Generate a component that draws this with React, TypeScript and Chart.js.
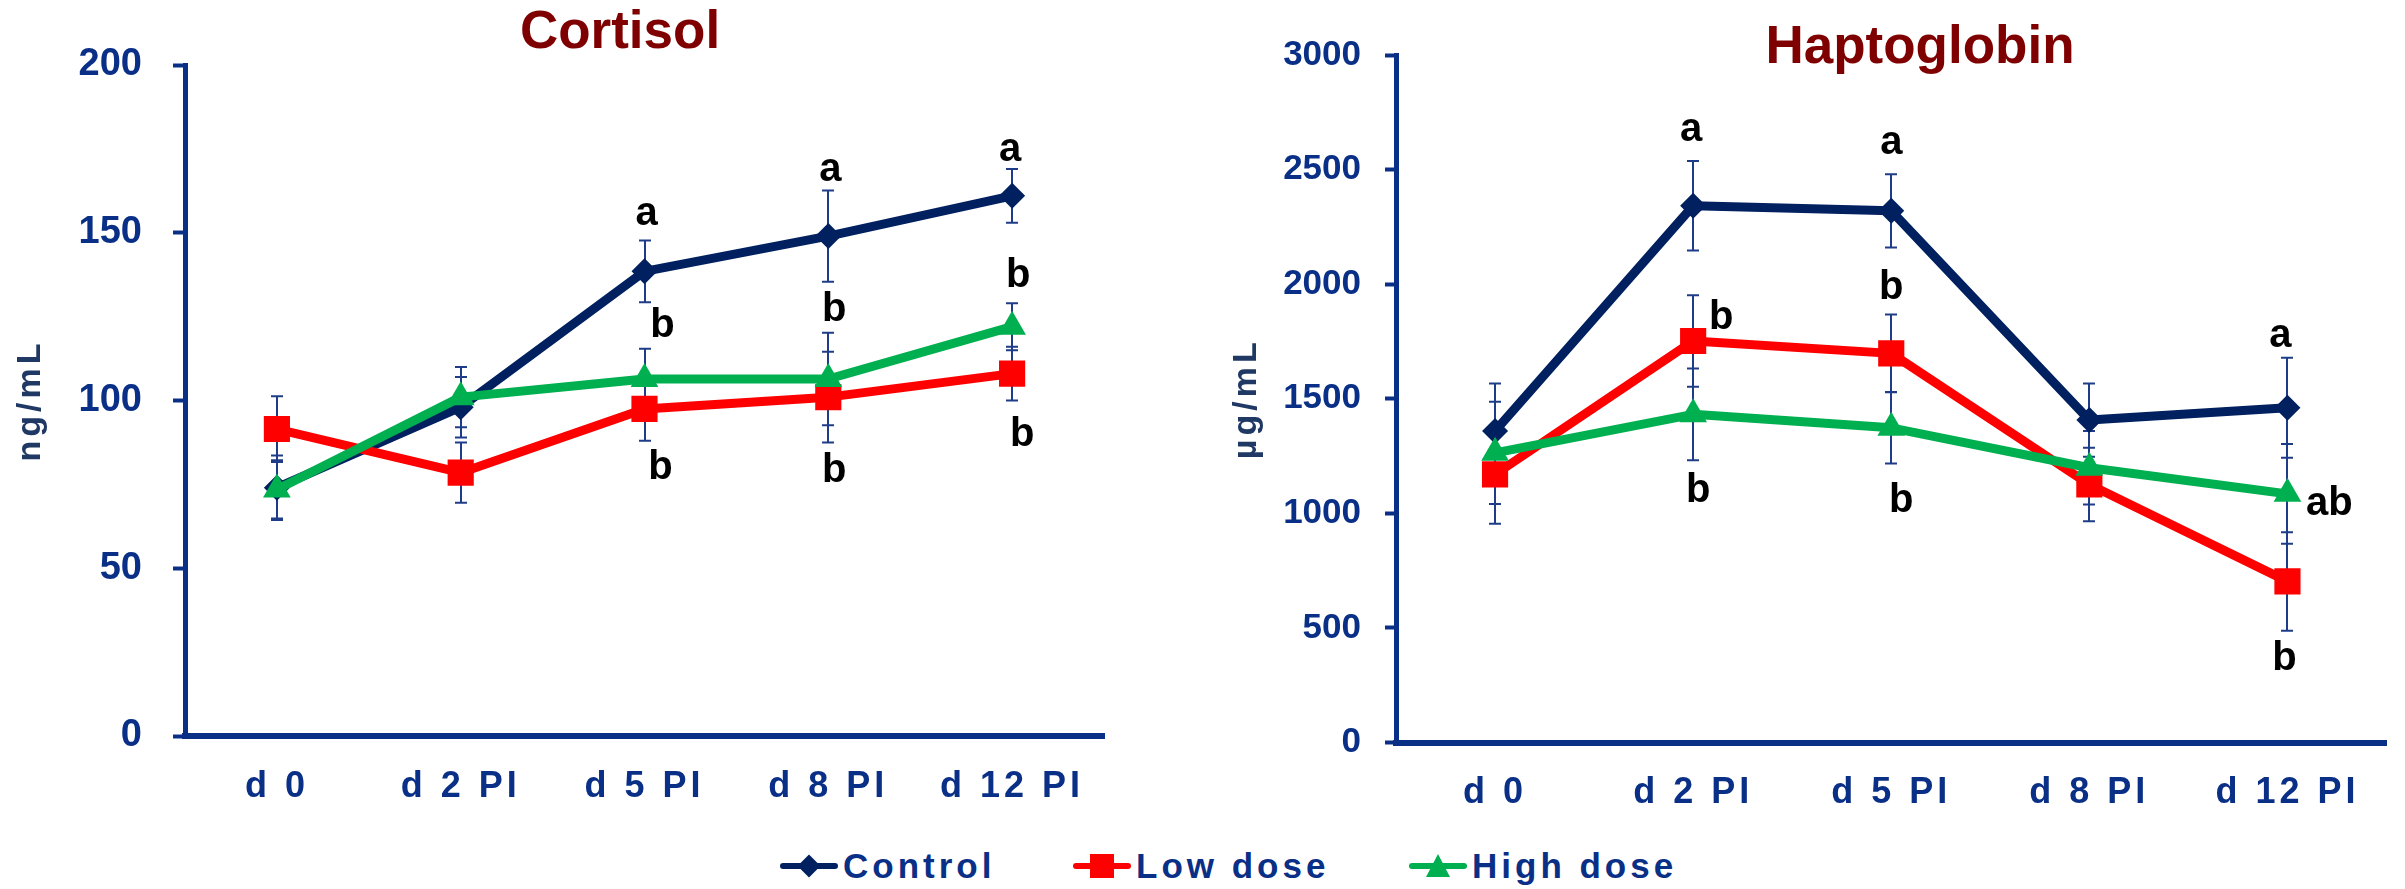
import React, { useEffect, useRef } from 'react';
import { Chart, registerables } from 'chart.js';

Chart.register(...registerables);

// ---- data ----
const days = ['d 0', 'd 2 PI', 'd 5 PI', 'd 8 PI', 'd 12 PI'];
const seriesNames = ['Control', 'Low dose', 'High dose'];

// Cortisol, ng/mL (mean and SE)
const cortisolControl = [74, 98, 138.5, 149, 161];
const cortisolControlSe = [9.6, 9, 9.2, 13.6, 8];
const cortisolLow = [91.5, 78.5, 97.5, 101, 108];
const cortisolLowSe = [9.8, 9, 9.5, 13.5, 8];
const cortisolHigh = [73.5, 101, 106.4, 106.4, 122];
const cortisolHighSe = [8.7, 9, 9, 13.8, 7];
const cortisolControlLetters = ['', '', 'a', 'a', 'a'];
const cortisolLowLetters = ['', '', 'b', 'b', 'b'];
const cortisolHighLetters = ['', '', 'b', 'b', 'b'];

// Haptoglobin, µg/mL (mean and SE)
const haptoControl = [1359, 2342, 2320, 1407, 1461];
const haptoControlSe = [208, 195, 160, 160, 218];
const haptoLow = [1170, 1752, 1698, 1126, 703];
const haptoLowSe = [215, 200, 170, 160, 215];
const haptoHigh = [1264, 1432, 1373, 1199, 1085];
const haptoHighSe = [223, 200, 156, 160, 218];
const haptoControlLetters = ['', 'a', 'a', '', 'a'];
const haptoLowLetters = ['', 'b', 'b', '', 'b'];
const haptoHighLetters = ['', 'b', 'b', '', 'ab'];

// ---- styling ----
const FONT = "'Liberation Sans', Arial, Helvetica, sans-serif";
const NAVY = '#0a2f86';
const AXIS_TITLE = '#1f3864';
const PANEL_TITLE = '#7f0000';
const ERR_COLOR = '#1f3c88';
const SERIES_COLORS = ['#002060', '#ff0000', '#00b050'];
const POINT_STYLES = ['rectRot', 'rect', 'triangle'];
const POINT_RADII = [13, 18.5, 16];

type Place = { anchor: 'top' | 'bottom' | 'point'; dx: number; dy: number } | null;

// where each significance letter sits relative to its error bar (pixels)
const cortisolPlacement: Place[][] = [
  [null, null, { anchor: 'top', dx: 2, dy: -15 }, { anchor: 'top', dx: 2, dy: -9 }, { anchor: 'top', dx: -2, dy: -8 }],
  [null, null, { anchor: 'bottom', dx: 16, dy: 38 }, { anchor: 'bottom', dx: 6, dy: 40 }, { anchor: 'bottom', dx: 10, dy: 45 }],
  [null, null, { anchor: 'top', dx: 18, dy: -12 }, { anchor: 'top', dx: 6, dy: -12 }, { anchor: 'top', dx: 6, dy: -16 }],
];
const haptoPlacement: Place[][] = [
  [null, { anchor: 'top', dx: -2, dy: -20 }, { anchor: 'top', dx: 0, dy: -20 }, null, { anchor: 'top', dx: -7, dy: -11 }],
  [null, { anchor: 'top', dx: 28, dy: 34 }, { anchor: 'top', dx: 0, dy: -15 }, null, { anchor: 'bottom', dx: -3, dy: 39 }],
  [null, { anchor: 'bottom', dx: 5, dy: 42 }, { anchor: 'bottom', dx: 10, dy: 48 }, null, { anchor: 'point', dx: 42, dy: 21 }],
];

type PanelSpec = {
  title: string;
  yTitle: string;
  values: number[][];
  errors: number[][];
  letters: string[][];
  placement: Place[][];
  yMax: number;
  yStep: number;
  box: {
    left: number; width: number; height: number;
    padTop: number; padRight: number; yWidth: number; xHeight: number;
    tickFont: number; tickLen: number; tickPad: number; yTitlePad: number;
    xPad: number; titleX: number; titleBaseline: number;
  };
};

function buildConfig(p: PanelSpec): any {
  const b = p.box;

  const errorBars = {
    id: 'errorBars',
    beforeDraw(chart: any) {
      chart.ctx.letterSpacing = '0px';
    },
    beforeDatasetsDraw(chart: any) {
      const { ctx } = chart;
      const y = chart.scales.y;
      ctx.save();
      ctx.strokeStyle = ERR_COLOR;
      ctx.lineWidth = 2;
      chart.data.datasets.forEach((ds: any, i: number) => {
        const meta = chart.getDatasetMeta(i);
        meta.data.forEach((pt: any, j: number) => {
          const v = ds.data[j];
          const e = ds.errorBars[j];
          const x = Math.round(pt.x);
          const yt = y.getPixelForValue(v + e);
          const yb = y.getPixelForValue(v - e);
          ctx.beginPath();
          ctx.moveTo(x, yt);
          ctx.lineTo(x, yb);
          ctx.moveTo(x - 6, yt);
          ctx.lineTo(x + 6, yt);
          ctx.moveTo(x - 6, yb);
          ctx.lineTo(x + 6, yb);
          ctx.stroke();
        });
      });
      ctx.restore();
    },
    afterDatasetsDraw(chart: any) {
      const { ctx } = chart;
      const y = chart.scales.y;
      ctx.save();
      ctx.fillStyle = '#000';
      ctx.font = `bold 40px ${FONT}`;
      ctx.textAlign = 'center';
      ctx.textBaseline = 'alphabetic';
      chart.data.datasets.forEach((ds: any, i: number) => {
        const meta = chart.getDatasetMeta(i);
        p.letters[i].forEach((txt, j) => {
          const pl = p.placement[i][j];
          if (!txt || !pl) return;
          const v = ds.data[j];
          const e = ds.errorBars[j];
          const ref = pl.anchor === 'top' ? v + e : pl.anchor === 'bottom' ? v - e : v;
          ctx.fillText(txt, meta.data[j].x + pl.dx, y.getPixelForValue(ref) + pl.dy);
        });
      });
      ctx.restore();
      // category labels and the value-axis title are drawn after this point, slightly tracked
      ctx.letterSpacing = '4px';
    },
    afterDraw(chart: any) {
      const { ctx } = chart;
      ctx.letterSpacing = '0px';
      ctx.save();
      ctx.fillStyle = PANEL_TITLE;
      ctx.font = `bold 53px ${FONT}`;
      ctx.textAlign = 'center';
      ctx.textBaseline = 'alphabetic';
      ctx.fillText(p.title, b.titleX, b.titleBaseline);
      ctx.restore();
    },
  };

  return {
    type: 'line',
    data: {
      labels: days,
      datasets: seriesNames.map((name, i) => ({
        label: name,
        data: p.values[i],
        errorBars: p.errors[i],
        borderColor: SERIES_COLORS[i],
        backgroundColor: SERIES_COLORS[i],
        borderWidth: 9,
        borderJoinStyle: 'round',
        borderCapStyle: 'round',
        tension: 0,
        fill: false,
        pointStyle: POINT_STYLES[i],
        pointRadius: POINT_RADII[i],
        pointBackgroundColor: SERIES_COLORS[i],
        pointBorderColor: SERIES_COLORS[i],
        pointBorderWidth: 0,
        order: 2 - i,
      })),
    },
    options: {
      responsive: false,
      animation: false,
      devicePixelRatio: 1,
      layout: { padding: { top: b.padTop, right: b.padRight, bottom: 0, left: 0 } },
      plugins: {
        legend: { display: false },
        tooltip: { enabled: false },
        title: { display: false },
      },
      scales: {
        x: {
          type: 'category',
          offset: true,
          grid: { display: false, drawTicks: false },
          border: { display: true, color: NAVY, width: 6 },
          ticks: {
            color: NAVY,
            font: { family: FONT, size: 36, weight: 'bold' },
            padding: b.xPad,
            maxRotation: 0,
            autoSkip: false,
            z: 1,
          },
          afterFit: (s: any) => { s.height = b.xHeight; },
        },
        y: {
          min: 0,
          max: p.yMax,
          ticks: {
            stepSize: p.yStep,
            color: NAVY,
            font: { family: FONT, size: b.tickFont, weight: 'bold' },
            padding: b.tickPad,
            callback: (v: number) => String(v),
          },
          grid: {
            drawOnChartArea: false,
            drawTicks: true,
            tickLength: b.tickLen,
            tickWidth: 4,
            tickColor: NAVY,
            z: 1,
          },
          border: { display: true, color: NAVY, width: 5, z: 1 },
          title: {
            display: true,
            text: p.yTitle,
            color: AXIS_TITLE,
            font: { family: FONT, size: 34, weight: 'bold' },
            padding: { top: b.yTitlePad, bottom: 0 },
          },
          afterFit: (s: any) => { s.width = b.yWidth; },
        },
      },
    },
    plugins: [errorBars],
  };
}

function Panel({ spec }: { spec: PanelSpec }) {
  const ref = useRef<HTMLCanvasElement>(null);
  useEffect(() => {
    const canvas = ref.current;
    if (!canvas) return;
    const chart = new Chart(canvas, buildConfig(spec));
    return () => chart.destroy();
  }, [spec]);
  const b = spec.box;
  return (
    <canvas
      ref={ref}
      width={b.width}
      height={b.height}
      style={{ position: 'absolute', left: b.left, top: 0, width: b.width, height: b.height, display: 'block' }}
    />
  );
}

const cortisolSpec: PanelSpec = {
  title: 'Cortisol',
  yTitle: 'ng/mL',
  values: [cortisolControl, cortisolLow, cortisolHigh],
  errors: [cortisolControlSe, cortisolLowSe, cortisolHighSe],
  letters: [cortisolControlLetters, cortisolLowLetters, cortisolHighLetters],
  placement: cortisolPlacement,
  yMax: 200,
  yStep: 50,
  box: {
    left: 0, width: 1200, height: 830,
    padTop: 65, padRight: 96, yWidth: 185, xHeight: 94,
    tickFont: 38, tickLen: 12, tickPad: 31, yTitlePad: 10,
    xPad: 29, titleX: 620, titleBaseline: 48,
  },
};

const haptoSpec: PanelSpec = {
  title: 'Haptoglobin',
  yTitle: 'µg/mL',
  values: [haptoControl, haptoLow, haptoHigh],
  errors: [haptoControlSe, haptoLowSe, haptoHighSe],
  letters: [haptoControlLetters, haptoLowLetters, haptoHighLetters],
  placement: haptoPlacement,
  yMax: 3000,
  yStep: 500,
  box: {
    left: 1200, width: 1205, height: 830,
    padTop: 55, padRight: 14, yWidth: 196, xHeight: 87.5,
    tickFont: 35, tickLen: 11, tickPad: 24, yTitlePad: 26,
    xPad: 29, titleX: 720, titleBaseline: 63,
  },
};

function LegendIcon({ index }: { index: number }) {
  const c = SERIES_COLORS[index];
  return (
    <svg width={58} height={30} viewBox="0 0 58 30" style={{ display: 'block', flex: 'none' }}>
      <line x1={3} y1={15} x2={55} y2={15} stroke={c} strokeWidth={6} strokeLinecap="round" />
      {index === 0 && <polygon points="29,3.5 40.5,15 29,26.5 17.5,15" fill={c} />}
      {index === 1 && <rect x={17} y={3} width={24} height={24} fill={c} />}
      {index === 2 && <polygon points="29,3 41,26 17,26" fill={c} />}
    </svg>
  );
}

const legendLefts = [780, 1073, 1409];

function Legend() {
  return (
    <>
      {seriesNames.map((name, i) => (
        <div
          key={name}
          style={{
            position: 'absolute',
            left: legendLefts[i],
            top: 851,
            height: 30,
            display: 'flex',
            alignItems: 'center',
            whiteSpace: 'nowrap',
          }}
        >
          <LegendIcon index={i} />
          <span
            style={{
              marginLeft: 5,
              fontFamily: FONT,
              fontWeight: 'bold',
              fontSize: 35,
              lineHeight: '30px',
              letterSpacing: '4px',
              color: NAVY,
            }}
          >
            {name}
          </span>
        </div>
      ))}
    </>
  );
}

export default function App() {
  return (
    <div
      style={{
        position: 'fixed',
        left: 0,
        top: 0,
        width: 2405,
        height: 889,
        background: '#ffffff',
        overflow: 'hidden',
      }}
    >
      <Panel spec={cortisolSpec} />
      <Panel spec={haptoSpec} />
      <Legend />
    </div>
  );
}
